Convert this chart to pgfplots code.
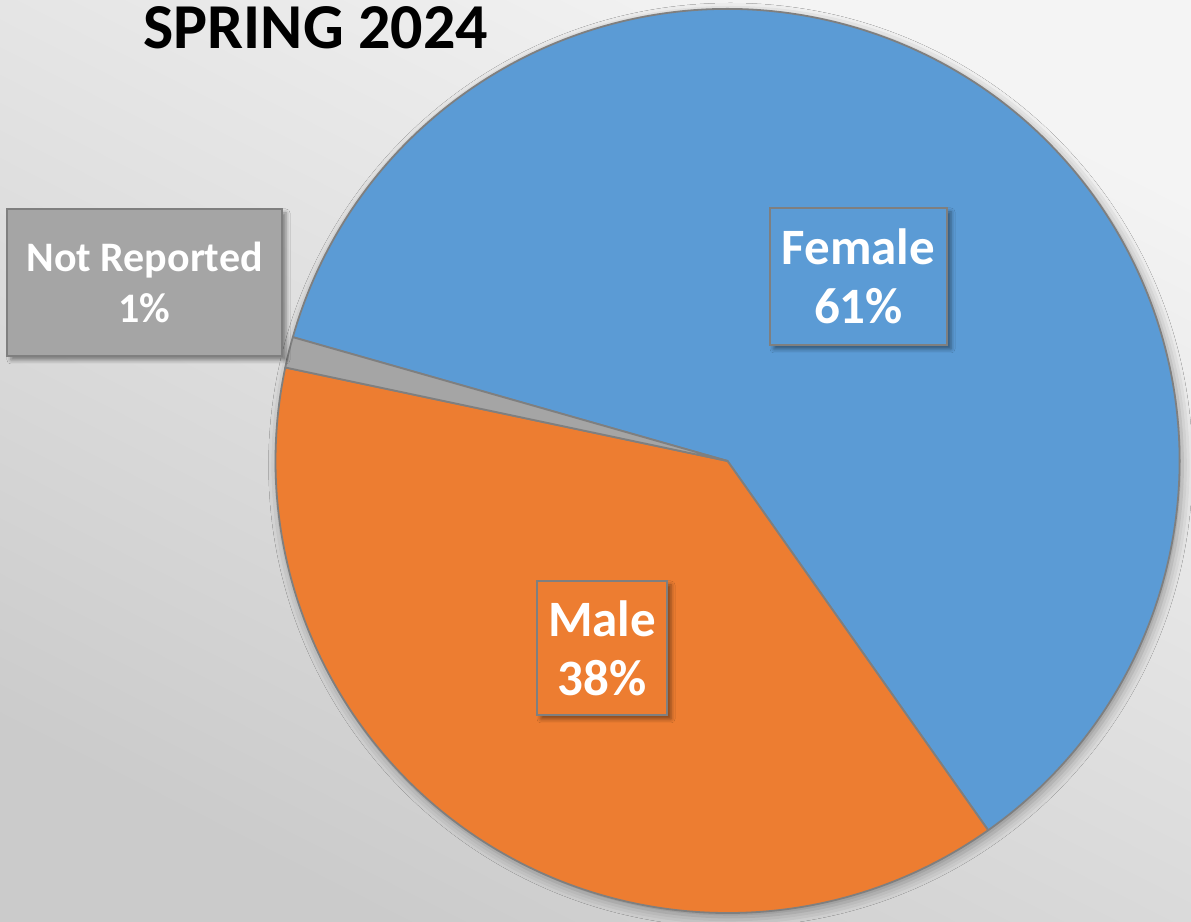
\documentclass[border=0pt]{standalone}
\usepackage{pgfplots}
\pgfplotsset{compat=1.18}
\usepackage{pgfplotstable}
\usepackage{fontspec}
\setmainfont{Carlito}
\usetikzlibrary{shadows.blur}

\definecolor{pieblue}{HTML}{5B9BD5}
\definecolor{pieorange}{HTML}{ED7D31}
\definecolor{piegray}{HTML}{A5A5A5}
\definecolor{edgegray}{HTML}{7F7F7F}
\definecolor{bgtop}{HTML}{F4F4F4}
\definecolor{bgbottom}{HTML}{CBCBCB}

\pgfplotstableread{
label value
Female 60.8
Male 38.1
NotReported 1.1
}\piedata

\begin{document}
\begin{tikzpicture}
\begin{axis}[scale only axis, width=595.5bp, height=461bp,
  xmin=0, xmax=1191, ymin=0, ymax=922, hide axis, clip=false]
\pgfplotsextra{
  \begin{scope}
  \clip (axis cs:0,0) rectangle (axis cs:1191,922);
  \shade[top color=bgtop, bottom color=bgbottom, shading angle=-27] (axis cs:0,0) rectangle (axis cs:1191,922);
  % pie shadow
  \fill[black, blur shadow={shadow xshift=1.5bp, shadow yshift=-2bp, shadow blur radius=5bp, shadow opacity=35}] (axis cs:727.5,461) circle (226bp);
  \pgfplotstablegetelem{0}{value}\of\piedata \edef\vA{\pgfplotsretval}
  \pgfplotstablegetelem{1}{value}\of\piedata \edef\vB{\pgfplotsretval}
  \pgfplotstablegetelem{2}{value}\of\piedata \edef\vC{\pgfplotsretval}
  \pgfmathsetmacro\aO{164.1}
  \pgfmathsetmacro\aA{\aO-3.6*\vA}
  \pgfmathsetmacro\aB{\aA-3.6*\vB}
  \pgfmathsetmacro\aC{\aB-3.6*\vC}
  \filldraw[fill=pieblue, draw=edgegray, line width=0.9bp, line join=round] (axis cs:727.5,461) -- ++(\aO:226bp) arc[start angle=\aO, end angle=\aA, radius=226bp] -- cycle;
  \filldraw[fill=pieorange, draw=edgegray, line width=0.9bp, line join=round] (axis cs:727.5,461) -- ++(\aA:226bp) arc[start angle=\aA, end angle=\aB, radius=226bp] -- cycle;
  \filldraw[fill=piegray, draw=edgegray, line width=0.9bp, line join=round] (axis cs:727.5,461) -- ++(\aB:226bp) arc[start angle=\aB, end angle=\aC, radius=226bp] -- cycle;
  % title
  \node[anchor=base west, inner sep=0, font=\fontsize{32bp}{38bp}\selectfont\bfseries] at (axis cs:143,873) {SPRING 2024};
  % labels
  \node[fill=pieblue, draw=edgegray, line width=1bp, text=white, align=center,
    minimum width=88.5bp, minimum height=68.5bp, inner sep=0,
    blur shadow={shadow xshift=2bp, shadow yshift=-2bp, shadow blur radius=2bp, shadow opacity=45},
    font=\fontsize{25.5bp}{29.5bp}\selectfont\bfseries] at (axis cs:858.5,645.5) {Female\\61\%};
  \node[fill=pieorange, draw=edgegray, line width=1bp, text=white, align=center,
    minimum width=65bp, minimum height=67bp, inner sep=0,
    blur shadow={shadow xshift=2bp, shadow yshift=-2bp, shadow blur radius=2bp, shadow opacity=45},
    font=\fontsize{25.5bp}{29.5bp}\selectfont\bfseries] at (axis cs:602,274) {Male\\38\%};
  \node[fill=piegray, draw=edgegray, line width=1bp, text=white, align=center,
    minimum width=137.5bp, minimum height=73.5bp, inner sep=0,
    blur shadow={shadow xshift=2bp, shadow yshift=-2bp, shadow blur radius=2bp, shadow opacity=45},
    font=\fontsize{21bp}{25.5bp}\selectfont\bfseries] at (axis cs:144.5,639.5) {Not Reported\\1\%};
  \end{scope}
}
\end{axis}
\pgfresetboundingbox
\useasboundingbox (current axis.south west) rectangle (current axis.north east);
\end{tikzpicture}
\end{document}
